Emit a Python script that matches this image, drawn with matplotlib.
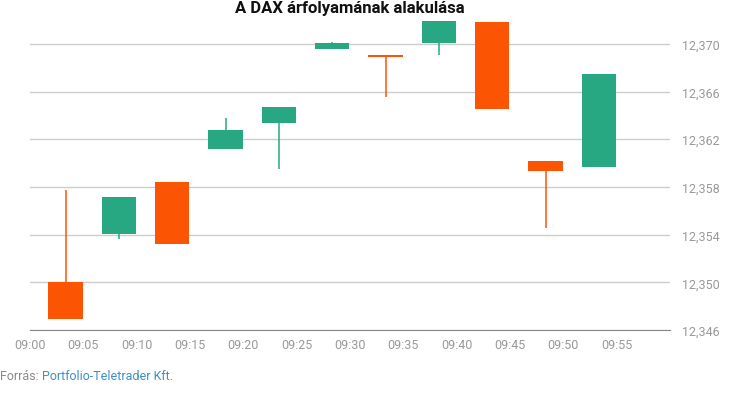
import matplotlib
matplotlib.use("Agg")
import matplotlib.pyplot as plt
import matplotlib.dates as mdates
import pandas as pd
from matplotlib.ticker import FuncFormatter

plt.rcParams["font.family"] = ["Roboto", "DejaVu Sans"]

# 5-minute candles (DAX)
times = ["09:03:20", "09:08:20", "09:13:20", "09:18:20", "09:23:20", "09:28:20",
         "09:33:20", "09:38:20", "09:43:20", "09:48:20", "09:53:20"]
opens = [12350.0, 12354.04, 12358.39, 12361.15, 12363.33, 12369.6,
         12369.1, 12370.05, 12371.87, 12360.15, 12359.64]
closes = [12346.95, 12357.13, 12353.2, 12362.74, 12364.67, 12370.11,
          12368.88, 12371.95, 12364.53, 12359.31, 12367.43]
highs = [12357.7, 12357.13, 12358.39, 12363.75, 12364.67, 12370.19,
         12369.1, 12371.95, 12371.87, 12360.15, 12367.43]
lows = [12346.95, 12353.64, 12353.2, 12361.15, 12359.48, 12369.6,
        12365.53, 12369.05, 12364.53, 12354.56, 12359.64]

x_ticks = ["09:00", "09:05", "09:10", "09:15", "09:20", "09:25",
           "09:30", "09:35", "09:40", "09:45", "09:50", "09:55"]
y_ticks = [12346, 12350, 12354, 12358, 12362, 12366, 12370]

UP = "#27a782"
DOWN = "#fb5504"
day = "2019-01-01 "

t = mdates.date2num(pd.to_datetime([day + s for s in times]))
xt = mdates.date2num(pd.to_datetime([day + s for s in x_ticks]))
x0 = mdates.date2num(pd.Timestamp(day + "09:00"))
x1 = mdates.date2num(pd.Timestamp(day + "10:00"))
width = 3.2 / (24 * 60)

fig = plt.figure(figsize=(7.3, 4.1), dpi=100)
ax = fig.add_axes([30 / 730, 79 / 410, 640 / 730, 310 / 410])

for xi, o, c, h, l in zip(t, opens, closes, highs, lows):
    col = UP if c >= o else DOWN
    ax.vlines(xi, l, h, color=col, linewidth=1.1, zorder=2)
    ax.bar(xi, abs(c - o), width=width, bottom=min(o, c), color=col,
           linewidth=0, zorder=3)

ax.set_xlim(x0, x1)
ax.set_ylim(12346, 12372)
ax.set_xticks(xt)
ax.set_xticklabels(x_ticks)
ax.set_yticks(y_ticks)
ax.yaxis.set_major_formatter(FuncFormatter(lambda v, p: f"{v:,.0f}"))
ax.yaxis.tick_right()
ax.grid(axis="y", color="#cccccc", linewidth=1)
ax.set_axisbelow(True)
for s in ("top", "left", "right"):
    ax.spines[s].set_visible(False)
ax.spines["bottom"].set_color("#888888")
ax.tick_params(axis="both", length=0, labelsize=9, labelcolor="#999999")
ax.tick_params(axis="x", pad=6)
ax.tick_params(axis="y", pad=9)

fig.text(350 / 730, 1 - 9 / 410, "A DAX árfolyamának alakulása",
         ha="center", va="center", fontsize=12, fontweight="bold", color="#111111")
src = fig.text(0, 1 - 377 / 410, "Forrás: ", ha="left", va="center",
               fontsize=9, color="#888888")
fig.canvas.draw()
bb = src.get_window_extent()
fig.text(bb.x1 / 730, 1 - 377 / 410, "Portfolio-Teletrader Kft.", ha="left",
         va="center", fontsize=9, color="#3d8fc6")

fig.savefig("out.png", dpi=100)
